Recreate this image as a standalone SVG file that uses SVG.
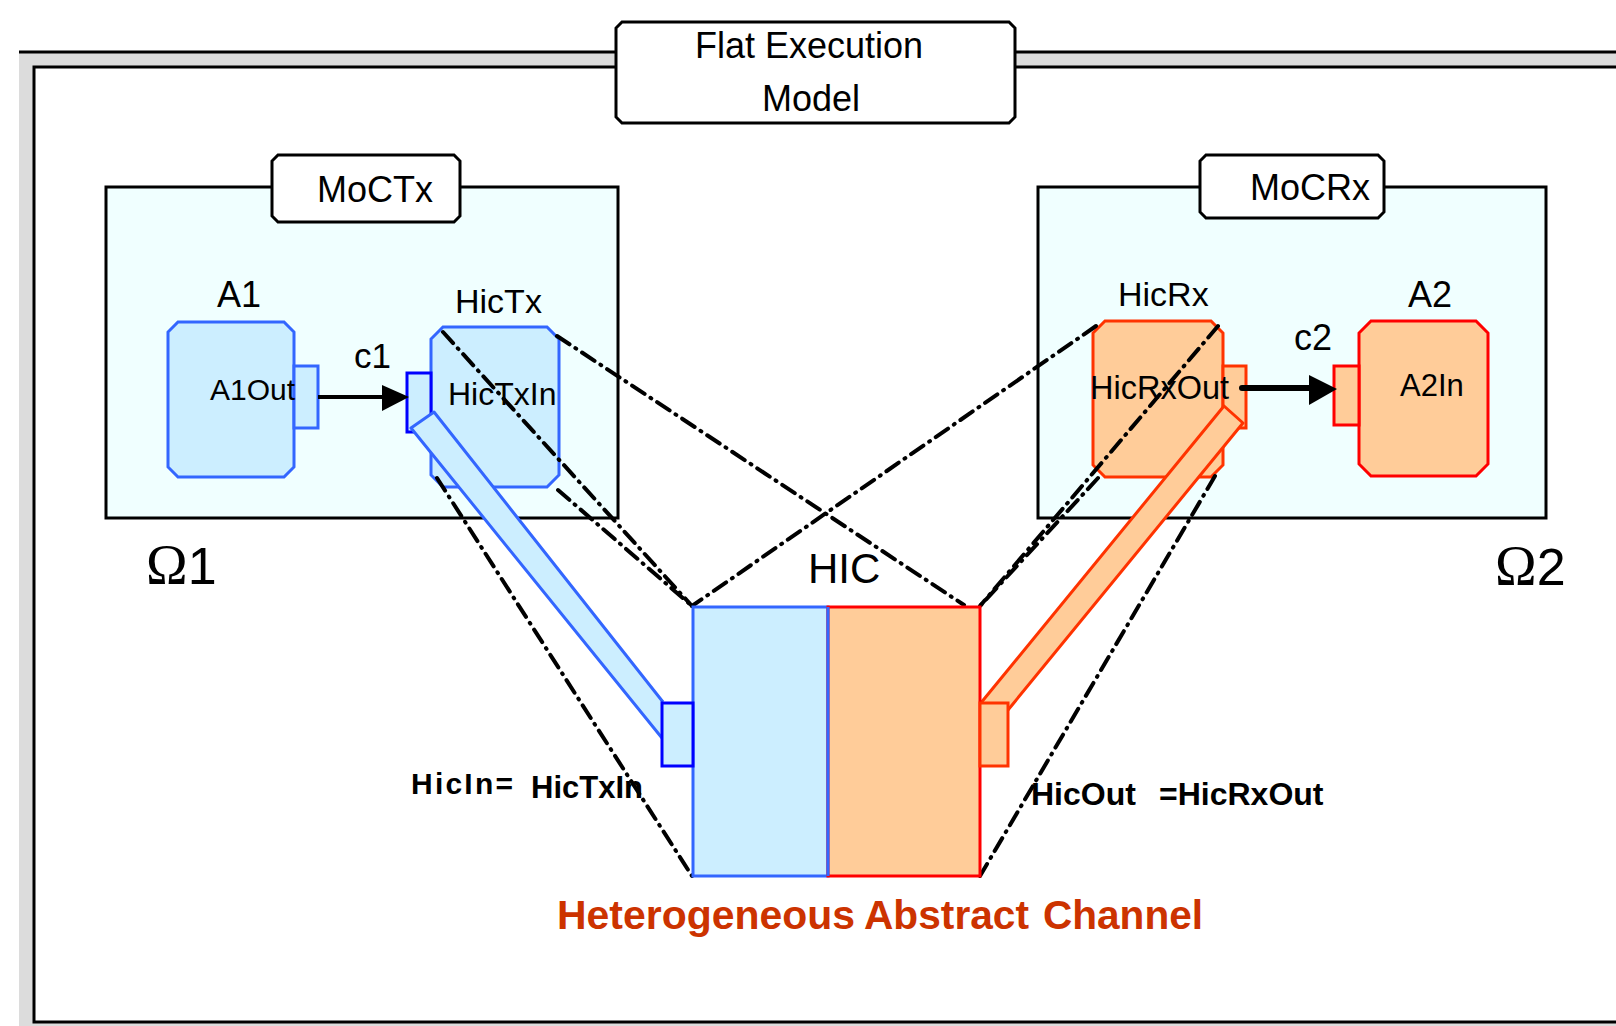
<svg xmlns="http://www.w3.org/2000/svg" width="1616" height="1026" viewBox="0 0 1616 1026">
<defs>
<style>
.t{font-family:"Liberation Sans",Arial,sans-serif;fill:#000}
.tb{font-family:"Liberation Sans",Arial,sans-serif;font-weight:bold;fill:#000}
.title{fill:#fff;stroke:#000;stroke-width:3}
.panel{fill:#f0ffff;stroke:#000;stroke-width:3}
.bx{fill:#cceeff;stroke:#3366ff;stroke-width:3}
.bxp{fill:#cceeff;stroke:#0000ff;stroke-width:3}
.ox{fill:#ffcc99;stroke:#ff3300;stroke-width:3}
.rx{fill:#ffcc99;stroke:#ff0000;stroke-width:3}
.dd{fill:none;stroke:#000;stroke-width:4;stroke-dasharray:15 7 1 7;stroke-linecap:round}
</style>
</defs>
<rect width="1616" height="1026" fill="#fff"/>
<g id="frame">
<rect x="19" y="52" width="1620" height="980" fill="#dcdcdc"/>
<line x1="19" y1="52" x2="1616" y2="52" stroke="#000" stroke-width="3"/>
<rect x="34" y="67" width="1600" height="955" fill="#fff" stroke="#000" stroke-width="3"/>
</g>
<g id="flat-title">
<path class="title" d="M622,22 H1009 L1015,28 V117 L1009,123 H622 L616,117 V28 Z"/>
<text class="t" x="809" y="58" font-size="36" text-anchor="middle">Flat Execution</text>
<text class="t" x="811" y="111" font-size="36" text-anchor="middle">Model</text>
</g>
<g id="moctx">
<rect class="panel" x="106" y="187" width="512" height="331"/>
<path class="title" d="M278,155 H454 L460,161 V216 L454,222 H278 L272,216 V161 Z"/>
<text class="t" x="317" y="202" font-size="36">MoCTx</text>
</g>
<g id="mocrx">
<rect class="panel" x="1038" y="187" width="508" height="331"/>
<path class="title" d="M1206,155 H1378 L1384,161 V212 L1378,218 H1206 L1200,212 V161 Z"/>
<text class="t" x="1250" y="200" font-size="36">MoCRx</text>
</g>
<g id="omega1"><text x="146" y="584"><tspan font-family="'Liberation Serif',serif" font-size="56">Ω</tspan><tspan font-family="'Liberation Sans',sans-serif" font-size="52">1</tspan></text></g>
<g id="omega2"><text x="1495" y="585"><tspan font-family="'Liberation Serif',serif" font-size="56">Ω</tspan><tspan font-family="'Liberation Sans',sans-serif" font-size="52">2</tspan></text></g>
<g id="A1">
<path class="bx" d="M178,322 H284 L294,332 V467 L284,477 H178 L168,467 V332 Z"/>
<rect class="bx" x="294" y="366" width="24" height="62"/>
<text class="t" x="217" y="307" font-size="36">A1</text>
<text class="t" x="210" y="400" font-size="30">A1Out</text>
</g>
<g id="HicTx">
<path class="bx" d="M443,327 H547 L559,339 V475 L547,487 H443 L431,475 V339 Z"/>
<rect class="bxp" x="407" y="373" width="24" height="59"/>
<text class="t" x="455" y="313" font-size="34">HicTx</text>
<text class="t" x="448" y="405" font-size="32">HicTxIn</text>
</g>
<g id="HicRx">
<path class="ox" d="M1105,321 H1211 L1223,333 V465 L1211,477 H1105 L1093,465 V333 Z"/>
<rect class="ox" x="1223" y="366" width="23" height="62"/>
<text class="t" x="1118" y="306" font-size="34">HicRx</text>
<text class="t" x="1090" y="399" font-size="32.5">HicRxOut</text>
</g>
<g id="A2">
<path class="rx" d="M1371,321 H1476 L1488,333 V464 L1476,476 H1371 L1359,464 V333 Z"/>
<rect class="rx" x="1334" y="366" width="25" height="59"/>
<text class="t" x="1408" y="307" font-size="36">A2</text>
<text class="t" x="1400" y="396" font-size="31">A2In</text>
</g>
<g id="connectors">
<line x1="318" y1="397" x2="384" y2="397" stroke="#000" stroke-width="4"/>
<polygon points="382,385 409,397 382,411" fill="#000"/>
<text class="t" x="354" y="368" font-size="35">c1</text>
<line x1="1242" y1="388" x2="1312" y2="388" stroke="#000" stroke-width="6" stroke-linecap="round"/>
<polygon points="1309,375 1337,389 1309,405" fill="#000"/>
<text class="t" x="1294" y="350" font-size="36">c2</text>
<polygon points="411,428 434,412 663,702 662,740" fill="#cceeff"/>
<path d="M662,738 L411,428 L434,412 L663,702" fill="none" stroke="#3366ff" stroke-width="3" stroke-linejoin="round"/>
<polygon points="1224,406 1243,423 1008,710 980,704" fill="#ffcc99"/>
<path d="M980,704 L1224,406 L1243,423 L1008,710" fill="none" stroke="#ff3300" stroke-width="3" stroke-linejoin="round"/>
<line class="dd" x1="443" y1="332" x2="692" y2="606"/>
<line class="dd" x1="558" y1="490" x2="692" y2="606"/>
<line class="dd" x1="557" y1="336" x2="964" y2="605"/>
<line class="dd" x1="437" y1="478" x2="692" y2="876"/>
<line class="dd" x1="1096" y1="326" x2="692" y2="606"/>
<line class="dd" x1="1218" y1="326" x2="980" y2="606"/>
<line class="dd" x1="1098" y1="478" x2="980" y2="606"/>
<line class="dd" x1="1215" y1="476" x2="980" y2="876"/>
</g>
<g id="HIC">
<rect class="bx" x="693" y="607" width="135" height="269"/>
<rect class="rx" x="828" y="607" width="152" height="269"/>
<line x1="828" y1="607" x2="828" y2="876" stroke="#3366ff" stroke-width="3"/>
<rect class="bxp" x="662" y="703" width="31" height="63"/>
<rect class="ox" x="980" y="703" width="28" height="63"/>
<text class="t" x="808" y="583" font-size="42">HIC</text>
<text class="tb" x="411" y="794" font-size="30" textLength="102" lengthAdjust="spacing">HicIn=</text>
<text class="tb" x="531" y="798" font-size="31">HicTxIn</text>
<text class="tb" x="1031" y="805" font-size="32">HicOut</text>
<text class="tb" x="1159" y="805" font-size="32">=HicRxOut</text>
<text class="tb" y="929" font-size="40.5" style="fill:#cc3300"><tspan x="557" textLength="298" lengthAdjust="spacingAndGlyphs">Heterogeneous</tspan><tspan x="864" textLength="165" lengthAdjust="spacingAndGlyphs">Abstract</tspan><tspan x="1043" textLength="160" lengthAdjust="spacingAndGlyphs">Channel</tspan></text>
</g>
</svg>
